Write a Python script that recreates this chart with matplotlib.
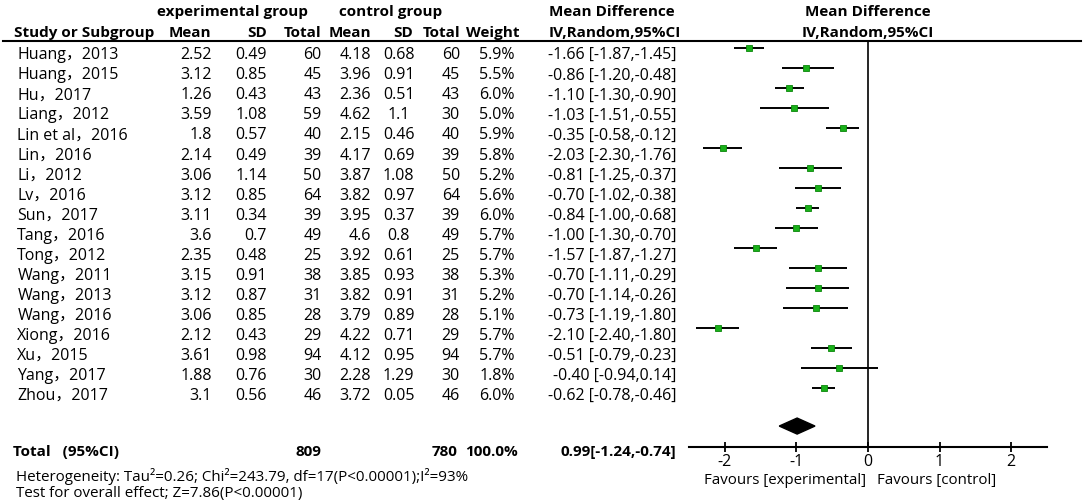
import numpy as np
import matplotlib
matplotlib.use("Agg")
import matplotlib.pyplot as plt
from matplotlib.transforms import blended_transform_factory

plt.rcParams['font.family'] = ['Open Sans', 'Noto Sans CJK SC', 'DejaVu Sans']
plt.rcParams['axes.unicode_minus'] = False

# study data
studies = ["Huang，2013", "Huang，2015", "Hu，2017", "Liang，2012", "Lin et al，2016",
           "Lin，2016", "Li，2012", "Lv，2016", "Sun，2017", "Tang，2016", "Tong，2012",
           "Wang，2011", "Wang，2013", "Wang，2016", "Xiong，2016", "Xu，2015",
           "Yang，2017", "Zhou，2017"]
exp_mean = [2.52, 3.12, 1.26, 3.59, 1.8, 2.14, 3.06, 3.12, 3.11, 3.6, 2.35, 3.15, 3.12, 3.06, 2.12, 3.61, 1.88, 3.1]
exp_sd = [0.49, 0.85, 0.43, 1.08, 0.57, 0.49, 1.14, 0.85, 0.34, 0.7, 0.48, 0.91, 0.87, 0.85, 0.43, 0.98, 0.76, 0.56]
exp_n = [60, 45, 43, 59, 40, 39, 50, 64, 39, 49, 25, 38, 31, 28, 29, 94, 30, 46]
ctl_mean = [4.18, 3.96, 2.36, 4.62, 2.15, 4.17, 3.87, 3.82, 3.95, 4.6, 3.92, 3.85, 3.82, 3.79, 4.22, 4.12, 2.28, 3.72]
ctl_sd = [0.68, 0.91, 0.51, 1.1, 0.46, 0.69, 1.08, 0.97, 0.37, 0.8, 0.61, 0.93, 0.91, 0.89, 0.71, 0.95, 1.29, 0.05]
ctl_n = [60, 45, 43, 30, 40, 39, 50, 64, 39, 49, 25, 38, 31, 28, 29, 94, 30, 46]
weight = [5.9, 5.5, 6.0, 5.0, 5.9, 5.8, 5.2, 5.6, 6.0, 5.7, 5.7, 5.3, 5.2, 5.1, 5.7, 5.7, 1.8, 6.0]

# mean differences as drawn
md = [-1.66, -0.86, -1.10, -1.03, -0.35, -2.03, -0.81, -0.70, -0.84, -1.00, -1.57, -0.70, -0.70, -0.73, -2.10, -0.51, -0.40, -0.62]
ci_lo = [-1.87, -1.20, -1.30, -1.51, -0.58, -2.30, -1.25, -1.02, -1.00, -1.30, -1.87, -1.11, -1.14, -1.19, -2.40, -0.79, -0.94, -0.78]
ci_hi = [-1.45, -0.48, -0.90, -0.55, -0.12, -1.76, -0.37, -0.38, -0.68, -0.70, -1.27, -0.29, -0.26, -0.28, -1.80, -0.23, 0.14, -0.46]
# printed labels (one typo in the source kept)
ci_labels = ["-1.66 [-1.87,-1.45]", "-0.86 [-1.20,-0.48]", "-1.10 [-1.30,-0.90]", "-1.03 [-1.51,-0.55]",
             "-0.35 [-0.58,-0.12]", "-2.03 [-2.30,-1.76]", "-0.81 [-1.25,-0.37]", "-0.70 [-1.02,-0.38]",
             "-0.84 [-1.00,-0.68]", "-1.00 [-1.30,-0.70]", "-1.57 [-1.87,-1.27]", "-0.70 [-1.11,-0.29]",
             "-0.70 [-1.14,-0.26]", "-0.73 [-1.19,-1.80]", "-2.10 [-2.40,-1.80]", "-0.51 [-0.79,-0.23]",
             "-0.40 [-0.94,0.14]", "-0.62 [-0.78,-0.46]"]

total_exp = 809
total_ctl = 780
pooled = (-0.99, -1.24, -0.74)
pooled_label = "0.99[-1.24,-0.74]"
xticks = [-2, -1, 0, 1, 2]

W, H = 1084, 504
fig = plt.figure(figsize=(W / 100, H / 100), dpi=100)

# forest axes, rows indexed from top
ax = fig.add_axes([689 / W, 57.3 / H, 358 / W, 406 / H])
ax.set_xlim(-2.5, 2.5)
ax.set_ylim(19.91, -0.35)
for s in ['top', 'right', 'left']:
    ax.spines[s].set_visible(False)
ax.spines['bottom'].set_linewidth(1.5)
ax.set_yticks([])
ax.set_xticks(xticks)
ax.tick_params(axis='x', direction='inout', length=7, width=1.3, pad=1.5, labelsize=11.5)

ax.axvline(0, color='black', lw=1.2)
# header rule
ax.axhline(-0.35, xmin=(2.7 - 689) / 358, xmax=(1080.7 - 689) / 358, color='black', lw=1.5, clip_on=False)

rows = np.arange(len(studies))
ax.hlines(rows, ci_lo, ci_hi, color='black', lw=1.4)
ax.plot(md, rows, 's', color='#19b019', mec='#0b860b', mew=0.6, ms=4.5)

# pooled diamond
yd = 18.88
ax.fill([pooled[1], pooled[0], pooled[2], pooled[0]], [yd, yd - 0.4, yd, yd + 0.4], color='black', clip_on=False)

fs = 11.5
fb = 11
tr = blended_transform_factory(fig.transFigure, ax.transData)


def put(xpx, y, s, ha='left', bold=False, size=None):
    if size is None:
        size = fb if bold else fs
    fig.text(xpx / W, y, s, ha=ha, va='baseline', transform=tr, fontsize=size,
             fontweight='bold' if bold else 'normal')


# headers
put(232, -1.6, "experimental group", ha='center', bold=True)
put(390.5, -1.6, "control group", ha='center', bold=True)
put(549, -1.6, "Mean Difference", bold=True)
put(868, -1.6, "Mean Difference", ha='center', bold=True)
put(14, -0.55, "Study or Subgroup", bold=True)
put(211.7, -0.55, "Mean", ha='right', bold=True)
put(266.7, -0.55, "SD", ha='right', bold=True)
put(321.7, -0.55, "Total", ha='right', bold=True)
put(371, -0.55, "Mean", ha='right', bold=True)
put(413.3, -0.55, "SD", ha='right', bold=True)
put(460, -0.55, "Total", ha='right', bold=True)
put(520, -0.55, "Weight", ha='right', bold=True)
put(549, -0.55, "IV,Random,95%CI", bold=True)
put(868, -0.55, "IV,Random,95%CI", ha='center', bold=True)

for i in rows:
    y = i + 0.58
    put(17.3, y, studies[i])
    put(211.7, y, f"{exp_mean[i]:g}", ha='right')
    put(266.7, y, f"{exp_sd[i]:g}", ha='right')
    put(321.7, y, str(exp_n[i]), ha='right')
    put(371, y, f"{ctl_mean[i]:g}", ha='right')
    put(398.7, y, f"{ctl_sd[i]:g}", ha='center')
    put(460, y, str(ctl_n[i]), ha='right')
    put(515, y, f"{weight[i]:.1f}%", ha='right')
    put(676, y, ci_labels[i], ha='right')

# total row
put(13.3, 20.36, "Total   (95%CI)", bold=True)
put(321.7, 20.36, str(total_exp), ha='right', bold=True)
put(458, 20.36, str(total_ctl), ha='right', bold=True)
put(518, 20.36, "100.0%", ha='right', bold=True)
put(676, 20.36, pooled_label, ha='right', bold=True)
put(15.7, 21.6, "Heterogeneity: Tau²=0.26; Chi²=243.79, df=17(P<0.00001);I²=93%", size=10.9)
put(15.7, 22.43, "Test for overall effect; Z=7.86(P<0.00001)", size=10.9)

ax.text(-0.02, 21.77, "Favours [experimental]", ha='right', va='baseline', fontsize=10.8)
ax.text(0.12, 21.77, "Favours [control]", ha='left', va='baseline', fontsize=10.8)

fig.savefig("out.png", dpi=100)
